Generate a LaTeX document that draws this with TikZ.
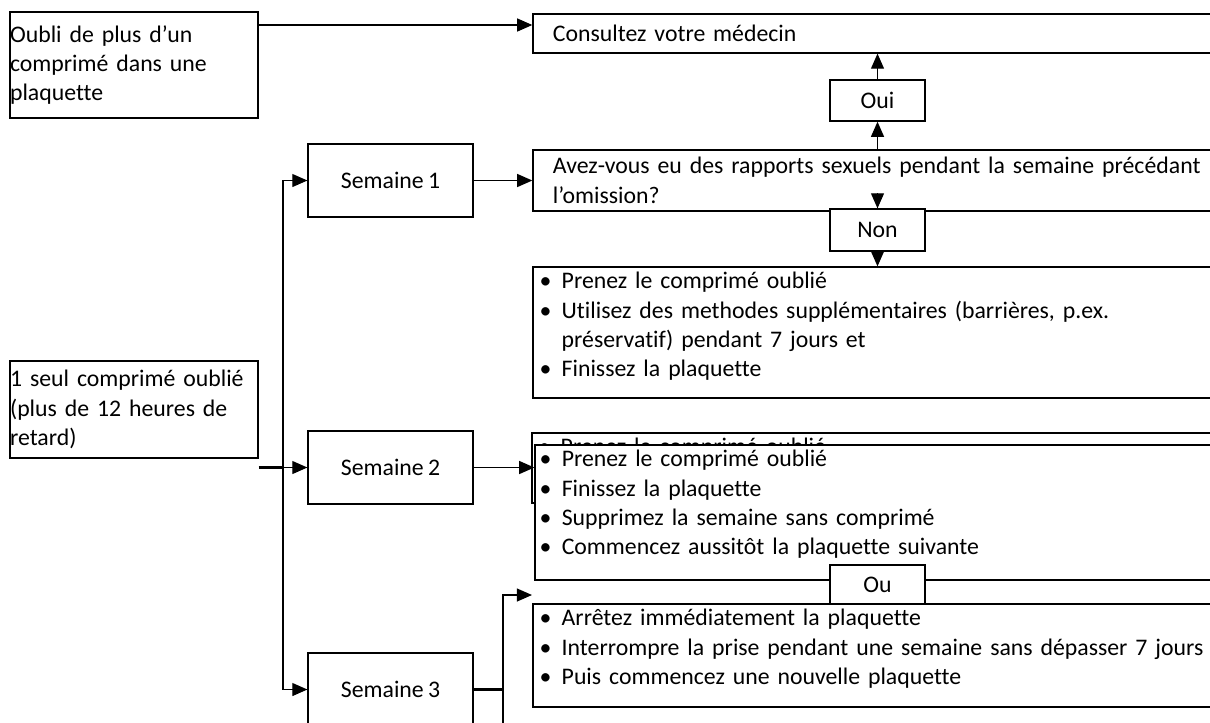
\documentclass[tikz,border=0pt]{standalone}
\usepackage{fontspec}
\setmainfont{Carlito}[Ligatures=CommonOff,WordSpace=0.8]
\usetikzlibrary{arrows.meta}

\newcommand{\puce}{\makebox[10.2pt][l]{\textbullet}}
\newcommand{\suite}{\hspace*{10.2pt}}

\begin{document}
\begin{tikzpicture}[x=0.4627pt,y=-0.4627pt,>={Triangle[length=7pt,width=6pt]},
    font=\fontsize{11pt}{13.6pt}\selectfont,
    boite/.style={draw,line width=0.6pt,fill=white,inner sep=0pt},
    grande/.style={boite,minimum width=350.3pt,text width=331.8pt,align=left},
    semaine/.style={boite,minimum width=76.3pt,minimum height=33.8pt},
    choix/.style={boite,minimum width=44pt},
    liste/.style={anchor=north west,inner sep=0pt,text width=340pt,align=left},
    lien/.style={line width=0.6pt},
    epais/.style={line width=1.2pt}]
            \useasboundingbox (0,0) rectangle (1210,722);
            \clip (0,0) rectangle (1210,722);

            % cases de gauche
            \node[boite,minimum width=114.7pt,minimum height=49pt,text width=114.7pt,align=left] (oubli) at (134,65)
                {Oubli de plus d’un\\comprimé dans une\\plaquette};
            \node[boite,minimum width=114.7pt,minimum height=44.9pt,text width=114.7pt,align=left] (seul) at (134,409.5)
                {1 seul comprimé oublié\\(plus de 12 heures de\\retard)};

            \node[semaine] (sem1) at (390.5,180.5) {Semaine 1};
            \node[semaine] (sem2) at (390.5,467.5) {Semaine 2};
            \node[semaine] (sem3) at (390.5,689.5) {Semaine 3};

            % cases de droite
            \node[grande,minimum height=18pt] (consult) at (911.5,33.5) {Consultez votre médecin};
            \node[grande,minimum height=28.2pt] (avez) at (911.5,180.5)
                {Avez-vous eu des rapports sexuels pendant la semaine précédant\\l’omission?};
            \node[choix,minimum height=19pt] (oui) at (877.5,100.5) {Oui};
            \node[choix,minimum height=19.4pt] (non) at (877.5,230) {Non};

            \node[grande,minimum height=60.6pt] (b1) at (911.5,332.5) {};
            \node[liste] (t1) at ([xshift=3.2pt,yshift=-2.5pt]b1.north west)
                {\puce Prenez le comprimé oublié\\
                 \puce Utilisez des methodes supplémentaires (barrières, p.ex.\\
                 \suite préservatif) pendant 7 jours et\\
                 \puce Finissez la plaquette};

            \node[grande,minimum height=32.4pt] (dessous) at (910.5,468) {};
            \node[liste] (tdessous) at ([xshift=3.2pt,yshift=-2.5pt]dessous.north west)
                {\puce Prenez le comprimé oublié};
            \node[grande,minimum height=62.5pt] (b2) at (913.5,512.5) {};
            \node[liste] (t2) at ([xshift=2.3pt,yshift=-2.5pt]b2.north west)
                {\puce Prenez le comprimé oublié\\
                 \puce Finissez la plaquette\\
                 \puce Supprimez la semaine sans comprimé\\
                 \puce Commencez aussitôt la plaquette suivante};

            \node[grande,minimum height=47.7pt] (b3) at (911.5,655.5) {};
            \node[liste] (t3) at ([xshift=3.2pt,yshift=-2.5pt]b3.north west)
                {\puce Arrêtez immédiatement la plaquette\\
                 \puce Interrompre la prise pendant une semaine sans dépasser 7 jours\\
                 \puce Puis commencez une nouvelle plaquette};
            \node[choix,minimum height=18pt] (ou) at (877.5,584.5) {Ou};

            % liens
            \coordinate (tronc) at (283,467.5);
            \coordinate (coude) at (503,740);
            \coordinate (pointe) at (532,595);

            \draw[lien,->] (oubli.east |- 0,25) -- (consult.west |- 0,25);
            \draw[lien,->] (oui.north) -- (oui.north |- consult.south);
            \draw[lien,->] (oui.south |- avez.north) -- (oui.south);
            \draw[lien,->] ([yshift=7pt]non.north) -- (non.north);
            \draw[lien,->] (non.south) -- (non.south |- b1.north);

            \draw[epais] (seul.east |- tronc) -- (tronc);
            \draw[lien,->] (tronc) |- (sem1.west);
            \draw[lien,->] (tronc) -- (sem2.west);
            \draw[lien,->] (tronc) |- (sem3.west);

            \draw[lien,->] (sem1.east) -- (avez.west);
            \draw[lien,->] (sem2.east) -- (sem2.east -| b2.west);
            \draw[epais] (sem3.east) -- (sem3.east -| coude);
            \draw[lien,->] (coude) |- (pointe);
\end{tikzpicture}
\end{document}
